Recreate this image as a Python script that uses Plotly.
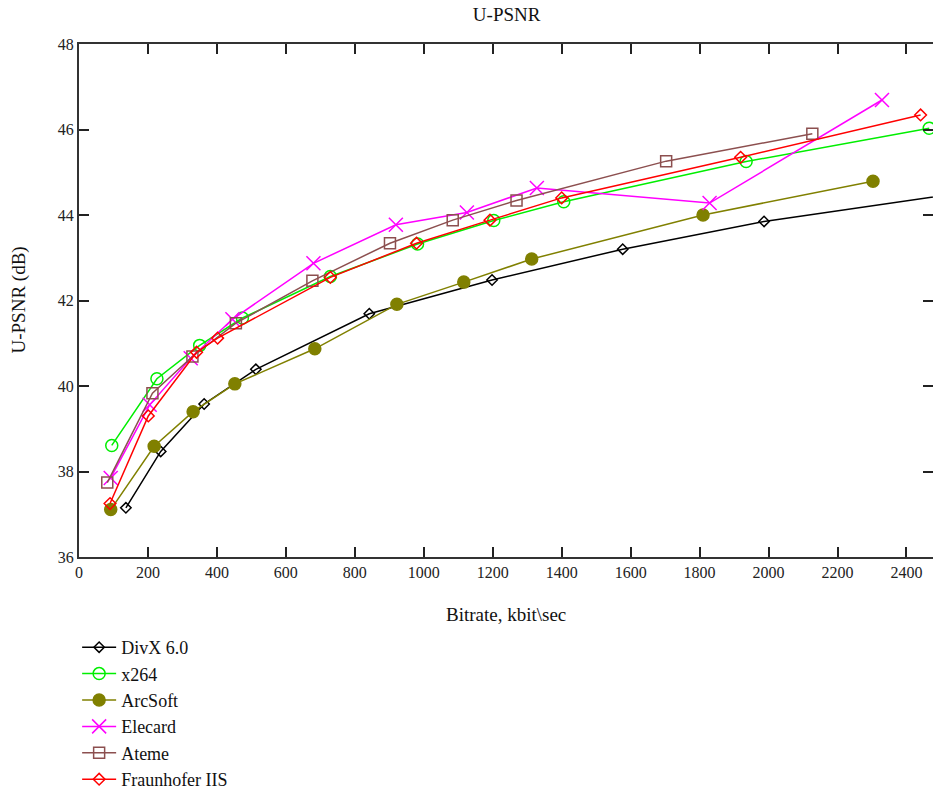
import plotly.graph_objects as go

names = ["DivX 6.0", "x264", "ArcSoft", "Elecard", "Ateme", "Fraunhofer IIS"]

divx_x = [136, 237, 363, 513, 842, 1198, 1577, 1987, 2560]
divx_y = [37.15, 38.47, 39.58, 40.39, 41.69, 42.48, 43.20, 43.85, 44.52]

x264_x = [95, 226, 350, 474, 729, 982, 1203, 1406, 1935, 2466]
x264_y = [38.61, 40.17, 40.95, 41.59, 42.56, 43.32, 43.87, 44.31, 45.25, 46.03]

arc_x = [92, 218, 331, 452, 684, 922, 1116, 1313, 1810, 2303]
arc_y = [37.11, 38.59, 39.40, 40.05, 40.87, 41.91, 42.43, 42.97, 44.00, 44.79]

ele_x = [92, 205, 324, 445, 680, 919, 1125, 1328, 1829, 2329]
ele_y = [37.85, 39.56, 40.65, 41.56, 42.87, 43.77, 44.06, 44.63, 44.28, 46.69]

ate_x = [82, 213, 329, 455, 677, 902, 1084, 1269, 1703, 2127]
ate_y = [37.74, 39.83, 40.69, 41.47, 42.46, 43.34, 43.88, 44.34, 45.26, 45.90]

fra_x = [90, 201, 341, 402, 729, 979, 1192, 1400, 1919, 2441]
fra_y = [37.25, 39.30, 40.79, 41.12, 42.54, 43.34, 43.88, 44.40, 45.35, 46.34]

x_ticks = list(range(0, 2401, 200))
y_ticks = [36, 38, 40, 42, 44, 46, 48]

series = [
    (divx_x, divx_y, "#000000", "diamond-open", 8),
    (x264_x, x264_y, "#00ee00", "circle-open", 12),
    (arc_x, arc_y, "#808000", "circle", 12),
    (ele_x, ele_y, "#ff00ff", "x-thin-open", 14),
    (ate_x, ate_y, "#8c4f4f", "square-open", 11),
    (fra_x, fra_y, "#ff0000", "diamond-open", 9),
]

FONT = "Liberation Serif"
fig = go.Figure()
for name, (xs, ys, col, sym, sz) in zip(names, series):
    fig.add_trace(go.Scatter(
        x=xs, y=ys, name=name, mode="lines+markers",
        line=dict(color=col, width=1.5),
        marker=dict(symbol=sym, size=sz, color=col,
                    line=dict(color=col, width=1.5)),
        cliponaxis=True,
    ))

axis_common = dict(
    showgrid=False, zeroline=False, showline=True, linecolor="#333333",
    linewidth=2, mirror="ticks", ticks="inside", ticklen=10, tickwidth=1.5,
    tickcolor="#222222", tickfont=dict(family=FONT, size=16, color="#222222"),
    automargin=False,
)
fig.update_layout(
    width=933, height=789,
    margin=dict(l=79, r=0, t=44, b=232, autoexpand=False),
    paper_bgcolor="white", plot_bgcolor="white",
    font=dict(family=FONT, color="#111111"),
    title=dict(text="U-PSNR", x=0.543, xanchor="center", y=1 - 14 / 789,
               yanchor="middle", yref="container",
               font=dict(family=FONT, size=19, color="#111111")),
    xaxis=dict(range=[0, 2477], tickvals=x_ticks, **axis_common),
    yaxis=dict(range=[36, 48], tickvals=y_ticks, **axis_common),
    showlegend=True,
    legend=dict(x=79 / 933 - 0.002, xanchor="left", xref="container",
                y=1 - 629 / 789, yanchor="top", yref="container",
                font=dict(family=FONT, size=18, color="#111111"),
                bgcolor="rgba(0,0,0,0)", tracegroupgap=0, itemwidth=34),
    annotations=[
        dict(text="Bitrate, kbit\\sec", xref="paper", yref="paper",
             x=0.5, y=(557 - 614) / 513, xanchor="center", yanchor="middle",
             showarrow=False, font=dict(family=FONT, size=19, color="#111111")),
        dict(text="U-PSNR (dB)", xref="paper", yref="paper",
             x=(18 - 79) / 854, y=0.5, xanchor="center", yanchor="middle",
             textangle=-90, showarrow=False,
             font=dict(family=FONT, size=19, color="#111111")),
    ],
)

fig.write_html("out.html")
